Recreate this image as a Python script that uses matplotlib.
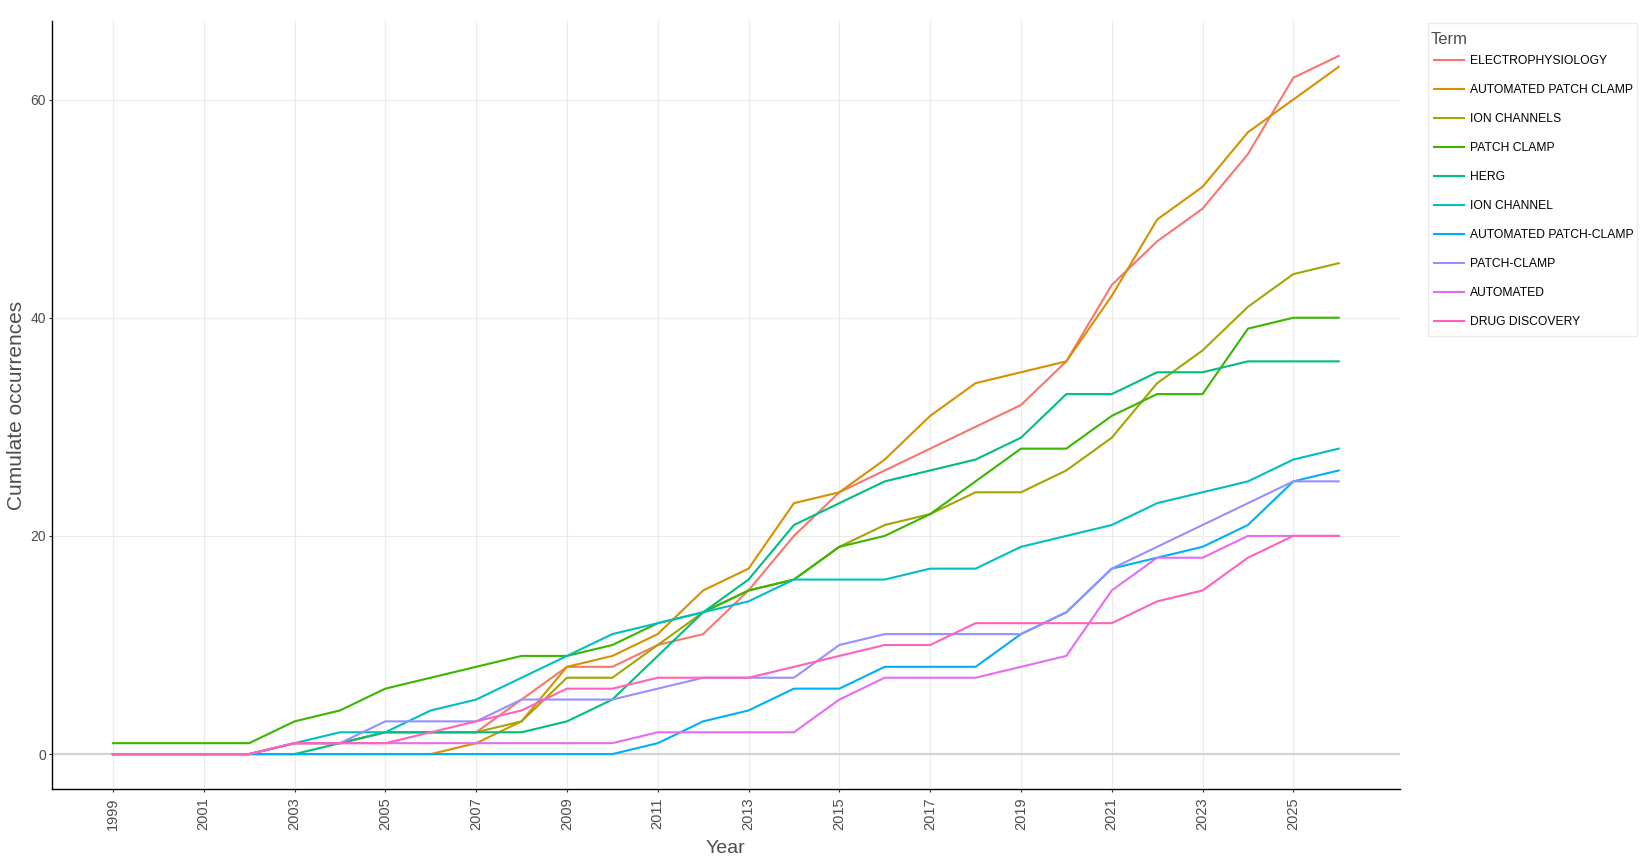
import matplotlib
matplotlib.use("Agg")
import matplotlib.pyplot as plt
from matplotlib.patches import Rectangle

plt.rcParams['font.family'] = ['Liberation Sans', 'DejaVu Sans']

years = list(range(1999, 2027))

terms = ["ELECTROPHYSIOLOGY", "AUTOMATED PATCH CLAMP", "ION CHANNELS", "PATCH CLAMP", "HERG",
         "ION CHANNEL", "AUTOMATED PATCH-CLAMP", "PATCH-CLAMP", "AUTOMATED", "DRUG DISCOVERY"]
colors = ["#F8766D", "#D89000", "#A3A500", "#39B600", "#00BF7D",
          "#00BFC4", "#00B0F6", "#9590FF", "#E76BF3", "#FF62BC"]

electrophysiology = [0, 0, 0, 0, 1, 1, 2, 2, 2, 5, 8, 8, 10, 11, 15, 20, 24, 26, 28, 30, 32, 36, 43, 47, 50, 55, 62, 64]
automated_patch_clamp = [0, 0, 0, 0, 0, 0, 0, 0, 1, 3, 8, 9, 11, 15, 17, 23, 24, 27, 31, 34, 35, 36, 42, 49, 52, 57, 60, 63]
ion_channels = [0, 0, 0, 0, 1, 1, 2, 2, 2, 3, 7, 7, 10, 13, 15, 16, 19, 21, 22, 24, 24, 26, 29, 34, 37, 41, 44, 45]
patch_clamp = [1, 1, 1, 1, 3, 4, 6, 7, 8, 9, 9, 10, 12, 13, 15, 16, 19, 20, 22, 25, 28, 28, 31, 33, 33, 39, 40, 40]
herg = [0, 0, 0, 0, 0, 1, 2, 2, 2, 2, 3, 5, 9, 13, 16, 21, 23, 25, 26, 27, 29, 33, 33, 35, 35, 36, 36, 36]
ion_channel = [0, 0, 0, 0, 1, 2, 2, 4, 5, 7, 9, 11, 12, 13, 14, 16, 16, 16, 17, 17, 19, 20, 21, 23, 24, 25, 27, 28]
automated_patch_clamp_h = [0, 0, 0, 0, 0, 0, 0, 0, 0, 0, 0, 0, 1, 3, 4, 6, 6, 8, 8, 8, 11, 13, 17, 18, 19, 21, 25, 26]
patch_clamp_h = [0, 0, 0, 0, 1, 1, 3, 3, 3, 5, 5, 5, 6, 7, 7, 7, 10, 11, 11, 11, 11, 13, 17, 19, 21, 23, 25, 25]
automated = [0, 0, 0, 0, 1, 1, 1, 1, 1, 1, 1, 1, 2, 2, 2, 2, 5, 7, 7, 7, 8, 9, 15, 18, 18, 20, 20, 20]
drug_discovery = [0, 0, 0, 0, 1, 1, 1, 2, 3, 4, 6, 6, 7, 7, 7, 8, 9, 10, 10, 12, 12, 12, 12, 14, 15, 18, 20, 20]

series = [electrophysiology, automated_patch_clamp, ion_channels, patch_clamp, herg,
          ion_channel, automated_patch_clamp_h, patch_clamp_h, automated, drug_discovery]

W, H = 1650, 864
fig = plt.figure(figsize=(W / 100, H / 100), dpi=100)
ax = fig.add_axes([0.0313, 0.0868, 0.8172, 0.8889])

ax.axhline(0, color="#D3D3D3", lw=1.6, zorder=1)
lines = []
for name, vals, c in zip(terms, series, colors):
    ln, = ax.plot(years, vals, color=c, lw=1.5, label=name, zorder=2)
    lines.append(ln)

ax.set_xlim(1997.65, 2027.35)
ax.set_ylim(-3.2, 67.2)
ax.set_xticks(list(range(1999, 2026, 2)))
ax.set_xticklabels([str(y) for y in range(1999, 2026, 2)], rotation=90, color="#4D4D4D", fontsize=10.5)
ax.set_yticks([0, 20, 40, 60])
ax.set_yticklabels(["0", "20", "40", "60"], color="#4D4D4D", fontsize=10)
ax.grid(True, color="#EBEBEB", lw=0.8, zorder=0)
ax.set_axisbelow(True)
for s in ["top", "right"]:
    ax.spines[s].set_visible(False)
for s in ["left", "bottom"]:
    ax.spines[s].set_color("black")
    ax.spines[s].set_linewidth(1.0)
ax.tick_params(axis="both", length=2.5, color="#333333", width=0.8)
ax.tick_params(axis="x", pad=3.5)
ax.tick_params(axis="y", pad=1.5)

ax.set_xlabel("Year", fontsize=14, color="#4D4D4D", labelpad=7)
ax.set_ylabel("Cumulate occurrences", fontsize=15, color="#4D4D4D")
ax.yaxis.set_label_coords(-0.019, 0.5)

# legend box drawn by hand so the title gap matches
fig.patches.append(Rectangle((1428 / W, 1 - 336 / H), (1637 - 1428) / W, (336 - 23) / H,
                             transform=fig.transFigure, facecolor="white",
                             edgecolor="#EBEBEB", lw=1.0, zorder=0))
fig.text(1431 / W, 1 - 39 / H, "Term", fontsize=12, color="#4D4D4D", va="center", ha="left")
leg = fig.legend(handles=lines, labels=terms, loc="upper left",
                 bbox_to_anchor=(1434 / W, 1 - 55 / H), frameon=False, fontsize=8.7,
                 handlelength=2.5, labelspacing=1.41, borderpad=0, borderaxespad=0,
                 handletextpad=0.45)

fig.savefig("out.png", dpi=100, facecolor="white")
